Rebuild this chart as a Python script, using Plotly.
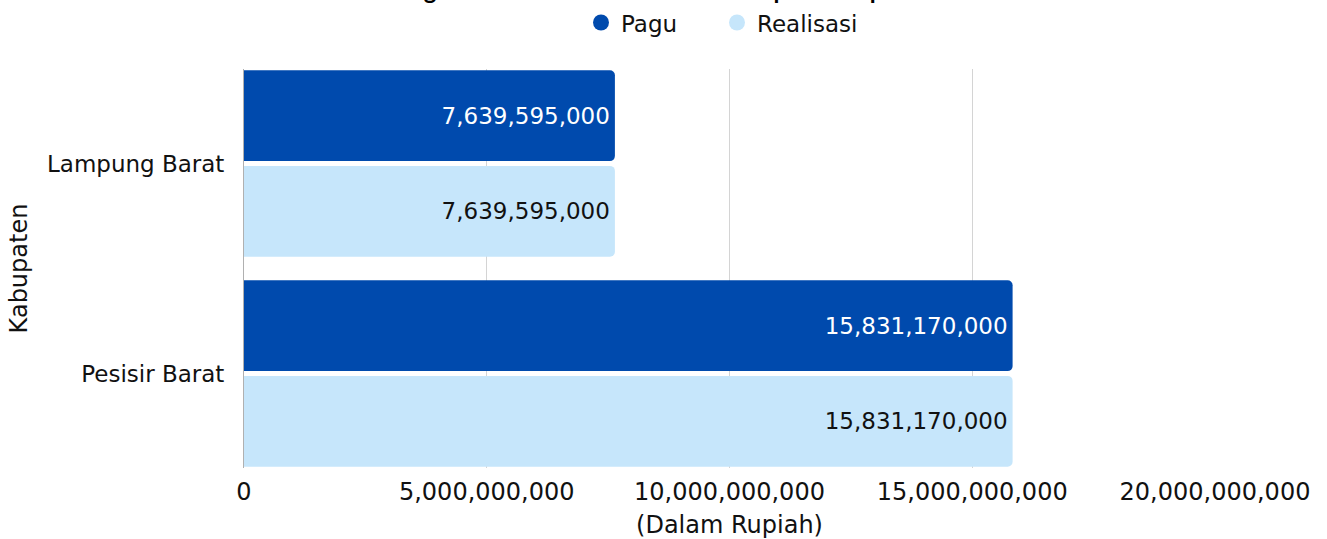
import plotly.graph_objects as go

categories = ["Lampung Barat", "Pesisir Barat"]
pagu = [7639595000, 15831170000]
realisasi = [7639595000, 15831170000]
series_names = ["Pagu", "Realisasi"]
colors = ["#004aad", "#c6e6fb"]
tick_vals = [0, 5e9, 10e9, 15e9, 20e9]
tick_text = ["0", "5,000,000,000", "10,000,000,000", "15,000,000,000", "20,000,000,000"]
title_text = "Pagu dan Realisasi Dana Kelurahan per Kabupaten"

FONT = "DejaVu Sans"

fig = go.Figure()
for name, vals, col, tcol in [(series_names[0], pagu, colors[0], "white"),
                              (series_names[1], realisasi, colors[1], "#111111")]:
    fig.add_trace(go.Bar(
        y=categories, x=vals, orientation="h", name=name,
        marker=dict(color=col, line=dict(width=0)),
        text=[f"{v:,}" for v in vals], textposition="inside",
        insidetextanchor="end",
        textfont=dict(color=tcol, size=23, family=FONT),
        showlegend=False, hoverinfo="x+y",
    ))
    fig.add_trace(go.Scatter(
        x=[None], y=[None], mode="markers", name=name,
        marker=dict(symbol="circle", size=24, color=col),
    ))
# spacer entry so the last legend label is not clipped
fig.add_trace(go.Scatter(x=[None], y=[None], mode="markers", name=" ",
                         marker=dict(color="rgba(0,0,0,0)"), hoverinfo="skip"))

fig.add_annotation(
    text=f"<b>{title_text}</b>", showarrow=False,
    xref="paper", x=(663.5 - 244) / (1327 - 244 - 112), xanchor="center",
    yref="paper", y=1, yanchor="bottom", yshift=63,
    font=dict(size=24, family="Lato", color="#000000"),
)

fig.update_layout(
    width=1327, height=539,
    margin=dict(l=244, r=112, t=69, b=71, autoexpand=False),
    paper_bgcolor="white", plot_bgcolor="white",
    font=dict(family=FONT, size=23, color="#111111"),
    barmode="group", bargap=0.09, bargroupgap=0.05, barcornerradius=5,
    legend=dict(orientation="h", x=581 / 1327, xanchor="left", xref="container",
                y=0.998, yanchor="top", yref="container",
                font=dict(size=23, family=FONT), itemwidth=30,
                entrywidth=91, entrywidthmode="pixels",
                bgcolor="rgba(0,0,0,0)"),
    xaxis=dict(range=[0, 20e9], tickvals=tick_vals, ticktext=tick_text,
               showgrid=True, gridcolor="#d4d4d4", gridwidth=1,
               zeroline=False, showline=False, ticks="", automargin=False,
               ticklabelstandoff=7,
               title=dict(text="(Dalam Rupiah)", standoff=12,
                          font=dict(size=24, family=FONT)),
               tickfont=dict(size=24, family=FONT)),
    yaxis=dict(categoryorder="array", categoryarray=categories,
               autorange=False, range=[1.45, -0.45], automargin=False,
               showline=True, linecolor="#b0b0b0", linewidth=1,
               ticks="", ticklabelstandoff=14,
               title=dict(text="Kabupaten", standoff=12,
                          font=dict(size=24, family=FONT)),
               tickfont=dict(size=23, family=FONT)),
)

fig.write_html("out.html")
